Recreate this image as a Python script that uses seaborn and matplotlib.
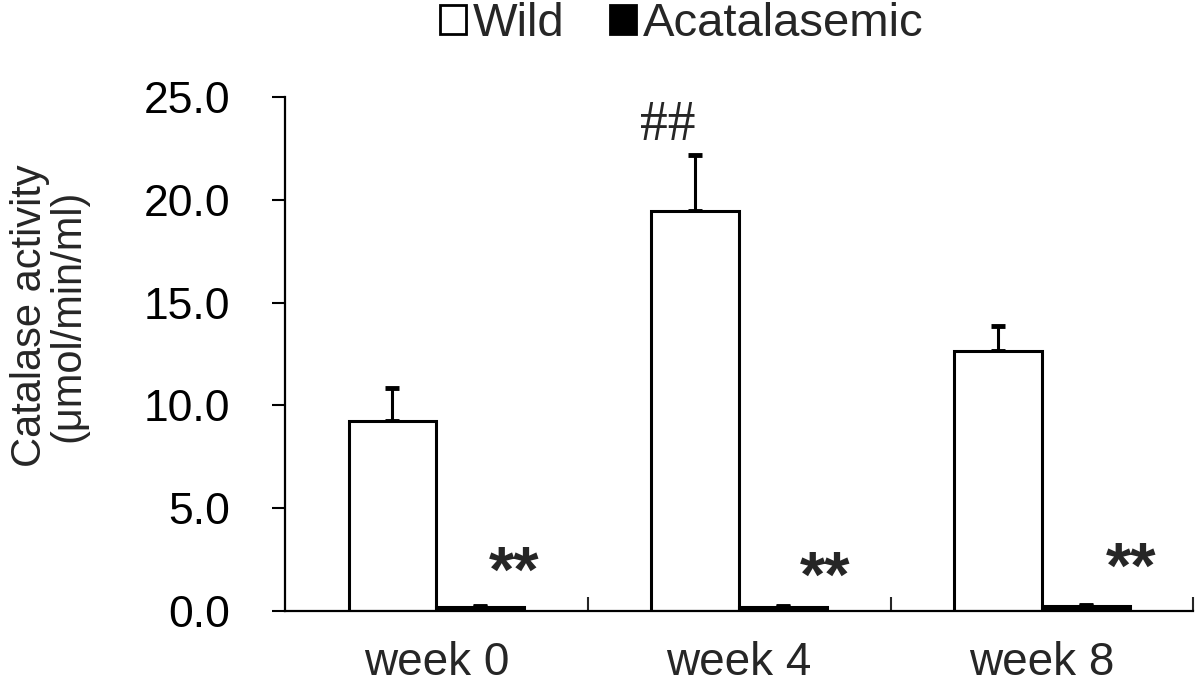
import pandas as pd
import matplotlib
matplotlib.use("Agg")
import matplotlib.pyplot as plt
from matplotlib.ticker import FixedLocator, FormatStrFormatter
import seaborn as sns

# data
weeks = ["week 0", "week 4", "week 8"]
groups = ["Wild", "Acatalasemic"]
wild_mean = [9.25, 19.45, 12.65]
wild_err = [1.6, 2.75, 1.2]
acat_mean = [0.2, 0.2, 0.25]
acat_err = [0.03, 0.03, 0.05]
stars = ["**", "**", "**"]
hash_mark = "##"

df = pd.DataFrame({
    "week": weeks * 2,
    "group": [groups[0]] * 3 + [groups[1]] * 3,
    "value": wild_mean + acat_mean,
})

sns.set_theme(style="ticks")
plt.rcParams["font.family"] = ["Liberation Sans", "DejaVu Sans"]

fig = plt.figure(figsize=(12, 6.88), dpi=100)
ax = fig.add_axes([0.2375, 0.112, 0.757, 0.747])

sns.barplot(data=df, x="week", y="value", hue="group", hue_order=groups,
            order=weeks, palette=["white", "black"], edgecolor="black",
            linewidth=2.2, width=0.58, errorbar=None, ax=ax, zorder=2)

# error bars (upper only) on top of each bar
for cont, err in zip(ax.containers, [wild_err, acat_err]):
    xs = [p.get_x() + p.get_width() / 2 for p in cont.patches]
    ys = [p.get_height() for p in cont.patches]
    ax.errorbar(xs, ys, yerr=[[0] * len(err), err], fmt="none", ecolor="black",
                elinewidth=2.2, capsize=4.7, capthick=3.5, zorder=1)

# significance marks
star_dx = [0.257, 0.284, 0.295]
star_y = [0.95, 0.7, 1.15]
for i, s in enumerate(stars):
    ax.text(i + star_dx[i], star_y[i], s, ha="center", va="baseline",
            fontsize=47, fontweight="bold")
ax.text(0.765, 22.9, hash_mark, ha="center", va="baseline", fontsize=40,
        family="Liberation Serif")

ax.set_ylim(0, 25)
ax.set_xlim(-0.5, 2.5)
ax.set_yticks([0, 5, 10, 15, 20, 25])
ax.yaxis.set_major_formatter(FormatStrFormatter("%.1f"))
ax.tick_params(axis="y", direction="out", length=9.4, width=1.5, pad=30,
               labelsize=32, colors="black")
ax.tick_params(axis="x", which="major", length=0, pad=22, labelsize=33)
ax.xaxis.set_minor_locator(FixedLocator([0.5, 1.5, 2.5]))
ax.tick_params(axis="x", which="minor", direction="in", length=10, width=1.5)
ax.set_xlabel("")
ax.set_ylabel("")
for side in ["top", "right"]:
    ax.spines[side].set_visible(False)
for side in ["left", "bottom"]:
    ax.spines[side].set_linewidth(1.6)
    ax.spines[side].set_color("black")

fig.text(0.041, 1 - 316 / 688, "Catalase activity\n(\u03bcmol/min/ml)", rotation=90,
         ha="center", va="center", multialignment="center", fontsize=30,
         linespacing=0.95)

sns.move_legend(ax, "center", bbox_to_anchor=(0.568, 0.965),
                bbox_transform=fig.transFigure, ncol=2, frameon=False, title=None,
                fontsize=34, handlelength=0.55, handleheight=0.55,
                handletextpad=0.15, columnspacing=0.95)
for h in ax.get_legend().legend_handles:
    h.set_linewidth(2)

fig.savefig("out.png", dpi=100)
